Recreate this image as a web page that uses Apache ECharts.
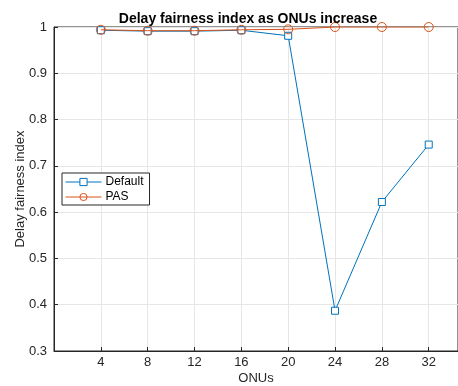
<!DOCTYPE html>
<html>
<head>
<meta charset="utf-8">
<script src="https://cdn.jsdelivr.net/npm/echarts@6/dist/echarts.min.js"></script>
<style>
  html, body { margin: 0; padding: 0; background: #fff; }
  #chart { width: 458px; height: 386px; }
</style>
</head>
<body>
<div id="chart"></div>
<script>
// Number of ONUs on the x axis
const onus = [4, 8, 12, 16, 20, 24, 28, 32];
// Delay fairness index per scheme
const defaultIdx = [0.993, 0.991, 0.991, 0.993, 0.981, 0.387, 0.622, 0.746];
const pasIdx = [0.994, 0.992, 0.992, 0.994, 0.995, 1.0, 1.0, 1.0];
// Tick labels shown on the x axis
const xTicks = [4, 8, 12, 16, 20, 24, 28, 32];

const axisColor = '#262626';
const font = 'Liberation Sans, Arial, sans-serif';

const chart = echarts.init(document.getElementById('chart'));
chart.setOption({
  animation: false,
  backgroundColor: '#fff',
  title: {
    text: 'Delay fairness index as ONUs increase',
    left: 243,
    textAlign: 'center',
    top: 7,
    textStyle: { fontFamily: font, fontSize: 14, fontWeight: 'bold', color: '#000' }
  },
  grid: {
    left: 54, right: 0, top: 27, bottom: 35,
    outerBoundsMode: 'none',
    containLabel: false,
    show: true, borderColor: axisColor, borderWidth: 1, backgroundColor: 'transparent'
  },
  legend: {
    orient: 'vertical',
    left: 62, top: 173,
    backgroundColor: '#fff',
    borderColor: axisColor, borderWidth: 1, borderRadius: 0,
    padding: [3, 6, 2, 3],
    itemGap: 3,
    itemWidth: 36, itemHeight: 9,
    itemStyle: { borderWidth: 1 },
    lineStyle: { width: 1 },
    textStyle: { fontFamily: font, fontSize: 12, color: '#000', padding: [0, 0, 0, -1] },
    data: ['Default', 'PAS']
  },
  xAxis: {
    type: 'value',
    min: 0, max: 34.5, interval: 4,
    name: 'ONUs', nameLocation: 'middle', nameGap: 21,
    nameMoveOverlap: false,
    nameTextStyle: { fontFamily: font, fontSize: 13, color: axisColor },
    axisLine: { show: true, lineStyle: { color: axisColor, width: 1 } },
    axisTick: { show: true, inside: true, length: 4, lineStyle: { color: axisColor } },
    axisLabel: {
      fontFamily: font, fontSize: 13, color: axisColor, margin: 5,
      showMaxLabel: false,
      formatter: v => (xTicks.indexOf(v) >= 0 ? String(v) : '')
    },
    splitLine: { show: true, lineStyle: { color: '#e6e6e6', width: 1 } }
  },
  yAxis: {
    type: 'value',
    min: 0.3, max: 1, interval: 0.1,
    name: 'Delay fairness index', nameLocation: 'middle', nameGap: 27,
    nameMoveOverlap: false,
    nameTextStyle: { fontFamily: font, fontSize: 13, color: axisColor },
    axisLine: { show: true, lineStyle: { color: axisColor, width: 1 } },
    axisTick: { show: true, inside: true, length: 4, lineStyle: { color: axisColor } },
    axisLabel: {
      fontFamily: font, fontSize: 13, color: axisColor, margin: 7,
      formatter: v => (Math.abs(v - 1) < 1e-9 ? '1' : v.toFixed(1))
    },
    splitLine: { show: true, lineStyle: { color: '#e6e6e6', width: 1 } }
  },
  series: [
    {
      name: 'Default',
      type: 'line',
      data: onus.map((x, i) => [x, defaultIdx[i]]),
      color: '#0072BD',
      lineStyle: { width: 1, color: '#0072BD' },
      symbol: 'rect', symbolSize: 7,
      itemStyle: { color: '#fff', borderColor: '#0072BD', borderWidth: 1 },
      z: 3
    },
    {
      name: 'PAS',
      type: 'line',
      data: onus.map((x, i) => [x, pasIdx[i]]),
      color: '#D95319',
      lineStyle: { width: 1, color: '#D95319' },
      symbol: 'circle', symbolSize: 9,
      itemStyle: { color: 'rgba(255,255,255,0)', borderColor: '#D95319', borderWidth: 1 },
      z: 4
    }
  ]
});
</script>
</body>
</html>
